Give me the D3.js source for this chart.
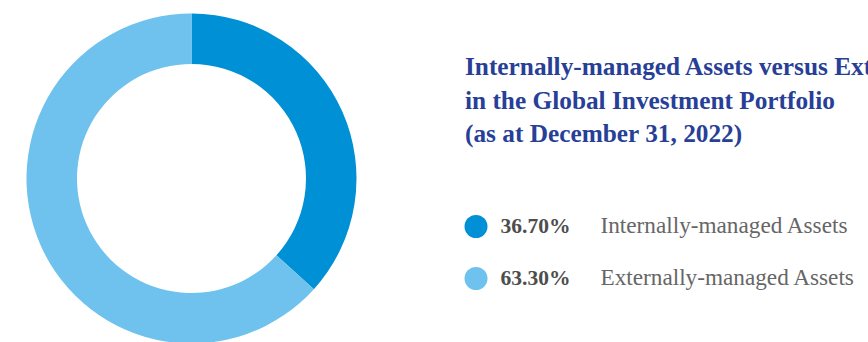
<!DOCTYPE html>
<html lang="en">
  <head>
    <meta charset="utf-8" />
    <title>Internally vs Externally managed assets</title>
    <script src="https://d3js.org/d3.v7.min.js"></script>
    <style type="text/css">
      body {
        margin: 0;
        background: #fff;
      }
      svg {
        display: block;
      }
    </style>
  </head>
  <body>
    <svg id="chart" width="868" height="342"></svg>
    <script type="text/javascript">
      // data
      const categories = ["Internally-managed Assets", "Externally-managed Assets"];
      const shares = [36.70, 63.30];
      const colors = ["#0090d5", "#6fc2ee"];
      const titleLines = [
        "Internally-managed Assets versus Externally-managed Assets",
        "in the Global Investment Portfolio",
        "(as at December 31, 2022)"
      ];

      const svg = d3.select("#chart");
      const serif = "'Liberation Serif', 'DejaVu Serif', serif";

      /* donut */
      const cx = 191.5, cy = 178.5;
      const pie = d3.pie().sort(null).value(d => d.value);
      const arc = d3.arc().innerRadius(114.5).outerRadius(165);
      const slices = pie(categories.map((c, i) => ({name: c, value: shares[i], color: colors[i]})));

      svg.append("g")
          .attr("transform", `translate(${cx},${cy})`)
        .selectAll("path")
        .data(slices)
        .enter()
        .append("path")
          .attr("d", arc)
          .attr("fill", d => d.data.color);

      // font size that makes a string about `w` px wide
      function fitSize(str, bold, w) {
        const t = svg.append("text")
            .attr("font-family", serif)
            .attr("font-weight", bold ? "bold" : "normal")
            .attr("font-size", 20)
            .text(str);
        const s = 20 * w / t.node().getComputedTextLength();
        t.remove();
        return s;
      }

      /* title */
      const titleSize = fitSize(titleLines[1], true, 370);
      svg.append("g").selectAll("text")
        .data(titleLines)
        .enter()
        .append("text")
          .attr("x", 465)
          .attr("y", (d, i) => 75 + i * 33.5)
          .attr("font-family", serif)
          .attr("font-weight", "bold")
          .attr("font-size", titleSize)
          .attr("fill", "#283f97")
          .text(d => d);

      /* legend */
      const labelSize = fitSize(categories[0], false, 247);
      const pctSize = fitSize("36.70%", true, 70);

      const rows = svg.append("g").selectAll("g")
        .data(categories)
        .enter()
        .append("g")
          .attr("transform", (d, i) => `translate(0,${226.5 + i * 52})`);

      rows.append("circle")
          .attr("cx", 476)
          .attr("cy", 0)
          .attr("r", 11.5)
          .attr("fill", (d, i) => colors[i]);

      rows.append("text")
          .attr("x", 500.5)
          .attr("y", 6)
          .attr("font-family", serif)
          .attr("font-weight", "bold")
          .attr("font-size", pctSize)
          .attr("fill", "#4d4d4d")
          .text((d, i) => shares[i].toFixed(2) + "%");

      rows.append("text")
          .attr("x", 600.5)
          .attr("y", 6)
          .attr("font-family", serif)
          .attr("font-size", labelSize)
          .attr("fill", "#666666")
          .text(d => d);
    </script>
  </body>
</html>
